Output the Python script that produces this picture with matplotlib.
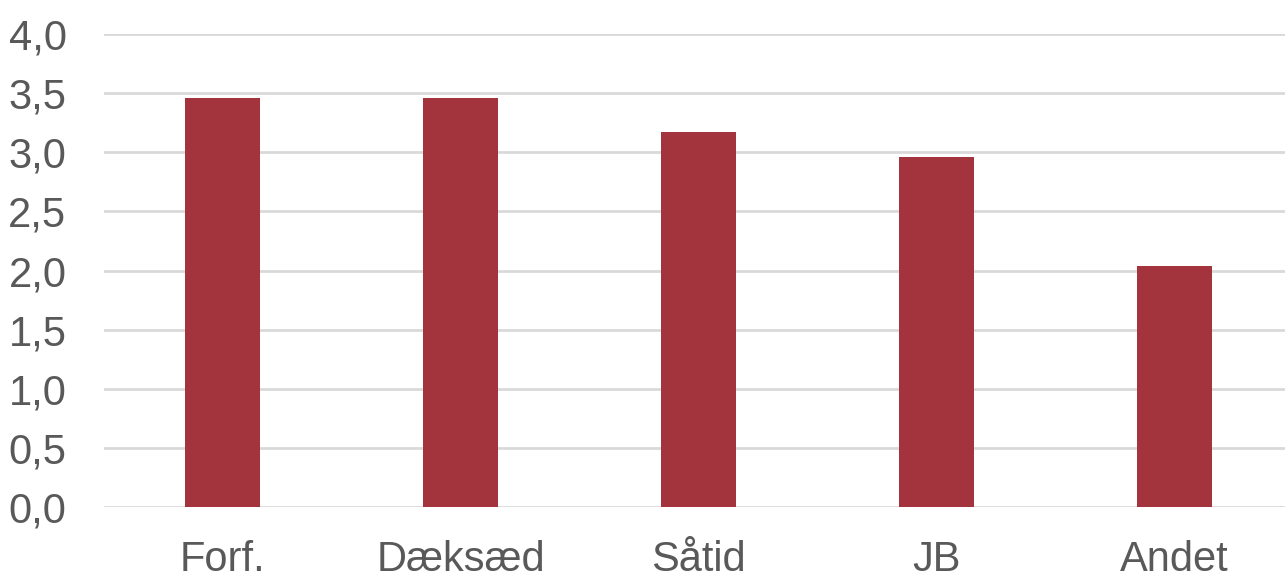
import matplotlib.pyplot as plt
import numpy as np

plt.rcParams['font.family'] = ['Liberation Sans', 'DejaVu Sans']

categories = ['Forf.', 'Dæksæd', 'Såtid', 'JB', 'Andet']
values = [3.46, 3.46, 3.17, 2.96, 2.04]
yticks = [0.0, 0.5, 1.0, 1.5, 2.0, 2.5, 3.0, 3.5, 4.0]
ytick_labels = ['0,0', '0,5', '1,0', '1,5', '2,0', '2,5', '3,0', '3,5', '4,0']

fig = plt.figure(figsize=(12.85, 5.72), dpi=100)
# plot area runs a little past the right edge of the picture
ax = fig.add_axes([104 / 1285, 1 - 507 / 572, 1189 / 1285, (507 - 34) / 572])

x = np.arange(len(categories))
ax.bar(x, values, width=0.315, color='#A3333D', zorder=3)

ax.set_xlim(-0.5, len(categories) - 0.5)
ax.set_ylim(0, 4.0)
ax.set_yticks(yticks)
ax.set_yticklabels(ytick_labels)
ax.set_xticks(x)
ax.set_xticklabels(categories)

ax.grid(axis='y', color='#D9D9D9', linewidth=2, zorder=0)
ax.set_axisbelow(True)
for s in ax.spines.values():
    s.set_visible(False)
ax.tick_params(axis='both', length=0, labelsize=30, labelcolor='#595959')
ax.tick_params(axis='y', pad=27)
ax.tick_params(axis='x', pad=23.5)

fig.savefig('out.png', dpi=100)
